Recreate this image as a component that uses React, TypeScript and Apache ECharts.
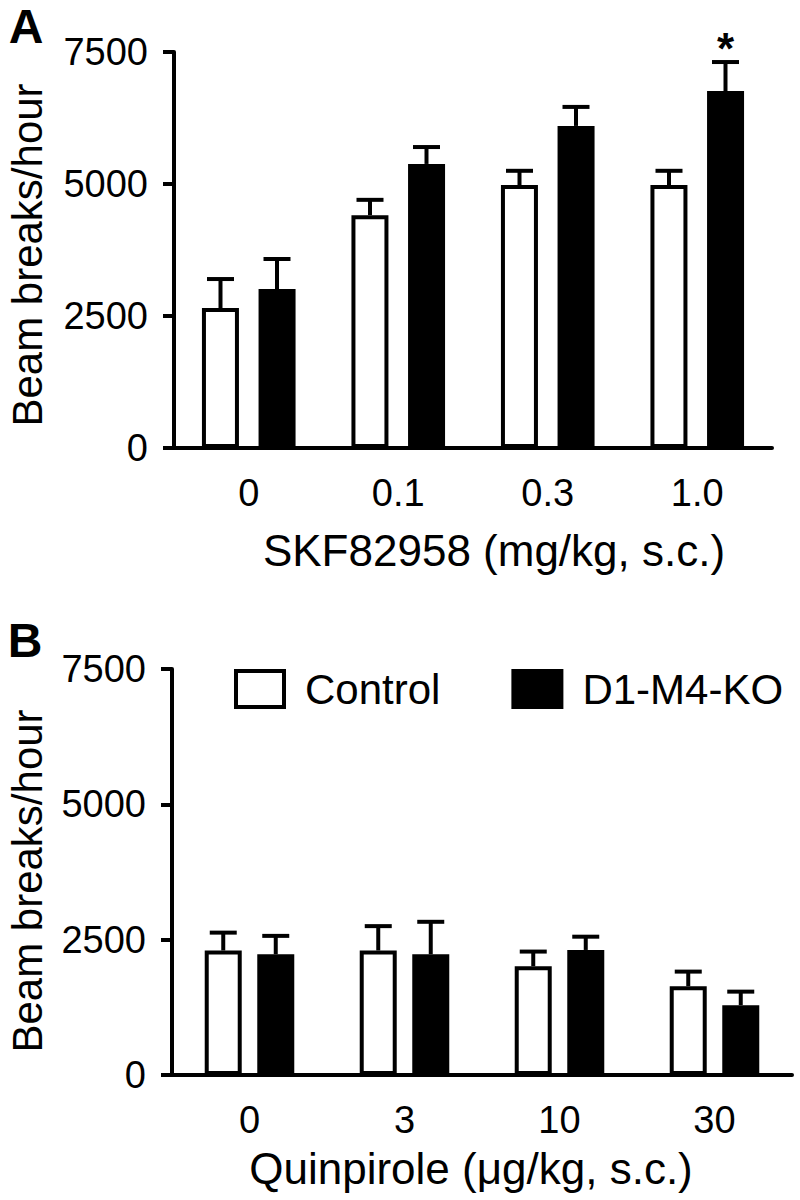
import React, { useEffect, useRef } from "react";
import * as echarts from "echarts";

// Panel A: SKF82958
const catsA = ["0", "0.1", "0.3", "1.0"];
const ctrlA = [2650, 4410, 4980, 4980];
const ctrlSemA = [550, 290, 270, 270];
const koA = [3010, 5380, 6100, 6760];
const koSemA = [570, 320, 360, 550];
const sigKoA = ["", "", "", "*"];

// Panel B: Quinpirole
const catsB = ["0", "3", "10", "30"];
const ctrlB = [2300, 2300, 2010, 1640];
const ctrlSemB = [330, 450, 270, 270];
const koB = [2230, 2230, 2310, 1290];
const koSemB = [340, 600, 245, 250];

const yTicks = [0, 2500, 5000, 7500];

const FONT = "'Liberation Sans', Arial, Helvetica, sans-serif";
const BLACK = "#000";
const LW = 4;

function errSeries(
  axisIndex: number,
  means: number[],
  sems: number[],
  offset: number,
  sig?: string[]
) {
  return {
    type: "custom",
    xAxisIndex: axisIndex,
    yAxisIndex: axisIndex,
    z: 5,
    silent: true,
    data: means.map((m, i) => [i, m, m + sems[i]]),
    renderItem: (params: any, api: any) => {
      const c = api.coord([api.value(0), api.value(1)]);
      const t = api.coord([api.value(0), api.value(2)]);
      const x = c[0] + offset;
      const children: any[] = [
        {
          type: "line",
          shape: { x1: x, y1: c[1], x2: x, y2: t[1] },
          style: { stroke: BLACK, lineWidth: LW },
        },
        {
          type: "line",
          shape: { x1: x - 13.5, y1: t[1], x2: x + 13.5, y2: t[1] },
          style: { stroke: BLACK, lineWidth: 4 },
        },
      ];
      const s = sig ? sig[params.dataIndex] : "";
      if (s) {
        children.push({
          type: "text",
          x: x,
          y: t[1] - 14,
          style: {
            text: s,
            fill: BLACK,
            font: `bold 44px ${FONT}`,
            textAlign: "center",
            textVerticalAlign: "middle",
          },
        });
      }
      return { type: "group", children };
    },
  };
}

function barSeries(name: string, axisIndex: number, data: number[], fill: string, gap: string) {
  return {
    name,
    type: "bar",
    xAxisIndex: axisIndex,
    yAxisIndex: axisIndex,
    data,
    barWidth: 37,
    barGap: gap,
    itemStyle: { color: fill, borderColor: BLACK, borderWidth: LW },
    z: 2,
  };
}

function yAxisCfg(gridIndex: number) {
  return {
    type: "value",
    gridIndex,
    min: yTicks[0],
    max: yTicks[yTicks.length - 1],
    interval: yTicks[1] - yTicks[0],
    axisLine: { show: true, lineStyle: { color: BLACK, width: 4 } },
    axisTick: { show: true, inside: false, length: 11, lineStyle: { color: BLACK, width: 4 } },
    axisLabel: {
      color: BLACK,
      fontSize: 38,
      fontFamily: FONT,
      margin: 26,
      formatter: (v: number) => String(v),
    },
    splitLine: { show: false },
  };
}

function xAxisCfg(gridIndex: number, cats: string[]) {
  return {
    type: "category",
    gridIndex,
    data: cats,
    axisLine: { show: true, lineStyle: { color: BLACK, width: 4 } },
    axisTick: { show: false },
    axisLabel: { color: BLACK, fontSize: 38, fontFamily: FONT, margin: 26 },
    splitLine: { show: false },
  };
}

function txt(text: string, x: number, y: number, size: number, opts: any = {}) {
  return {
    type: "text",
    x,
    y,
    rotation: opts.rotation || 0,
    style: {
      text,
      fill: BLACK,
      font: `${opts.bold ? "bold " : ""}${size}px ${FONT}`,
      textAlign: opts.align || "center",
      textVerticalAlign: "middle",
    },
  };
}

export default function App() {
  const ref = useRef<HTMLDivElement>(null);
  useEffect(() => {
    if (!ref.current) return;
    const chart = echarts.init(ref.current, null, { renderer: "svg" });
    chart.setOption({
      animation: false,
      backgroundColor: "#fff",
      textStyle: { fontFamily: FONT },
      grid: [
        { left: 174, top: 52, width: 598, height: 396 },
        { left: 172, top: 669, width: 620, height: 406 },
      ],
      xAxis: [xAxisCfg(0, catsA), xAxisCfg(1, catsB)],
      yAxis: [yAxisCfg(0), yAxisCfg(1)],
      legend: {
        data: ["Control", "D1-M4-KO"],
        left: 234,
        top: 668,
        padding: 0,
        itemWidth: 48,
        itemHeight: 36,
        itemGap: 71,
        icon: "rect",
        selectedMode: false,
        itemStyle: { borderColor: BLACK, borderWidth: LW },
        textStyle: { color: BLACK, fontSize: 42, fontFamily: FONT, padding: [0, 0, 0, 16] },
      },
      series: [
        barSeries("Control", 0, ctrlA, "#fff", "53%"),
        barSeries("D1-M4-KO", 0, koA, BLACK, "53%"),
        errSeries(0, ctrlA, ctrlSemA, -28.25),
        errSeries(0, koA, koSemA, 28.25, sigKoA),
        barSeries("Control", 1, ctrlB, "#fff", "42%"),
        barSeries("D1-M4-KO", 1, koB, BLACK, "42%"),
        errSeries(1, ctrlB, ctrlSemB, -26.25),
        errSeries(1, koB, koSemB, 26.25),
      ],
      graphic: [
        txt("A", 26, 26, 48, { bold: true }),
        txt("B", 25, 640, 48, { bold: true }),
        txt("Beam breaks/hour", 27, 255, 42, { rotation: Math.PI / 2 }),
        txt("Beam breaks/hour", 27, 881, 42, { rotation: Math.PI / 2 }),
        txt("SKF82958 (mg/kg, s.c.)", 494, 550, 44),
        txt("Quinpirole (\u03bcg/kg, s.c.)", 471, 1168, 44),
      ],
    });
    return () => chart.dispose();
  }, []);
  return (
    <div
      ref={ref}
      style={{ position: "absolute", left: 0, top: 0, width: 800, height: 1200, background: "#fff" }}
    />
  );
}
